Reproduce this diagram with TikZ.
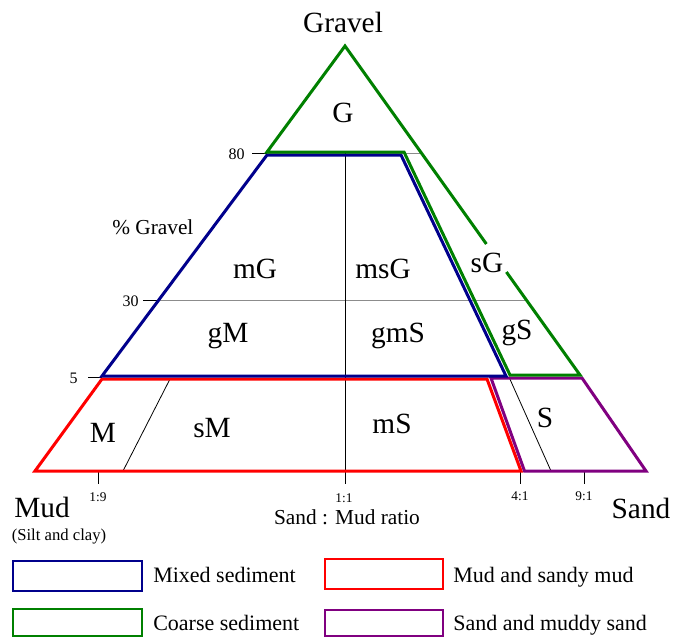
\documentclass[tikz,border=0pt]{standalone}
\usepackage{fontspec}
\setmainfont{Liberation Serif}
\definecolor{mixblue}{RGB}{0,0,140}
\definecolor{coarsegreen}{RGB}{0,128,0}
\definecolor{mudred}{RGB}{255,0,0}
\definecolor{sandpurple}{RGB}{128,0,128}

\begin{document}
\begin{tikzpicture}[x=0.75pt,y=-0.75pt,
  zone/.style={line width=2.25pt, line join=miter},
  fine/.style={line width=0.6pt, black},
  guide/.style={line width=0.6pt, black!45},
  region/.style={font=\fontsize{22}{24}\selectfont, anchor=base, inner sep=0},
  corner/.style={font=\fontsize{22}{24}\selectfont, anchor=base, inner sep=0},
  pct/.style={font=\fontsize{12}{14}\selectfont, anchor=base east, inner sep=0},
  ratio/.style={font=\fontsize{10}{12}\selectfont, anchor=base, inner sep=0},
  axis/.style={font=\fontsize{16}{18}\selectfont, inner sep=0},
  keybox/.style={line width=1.5pt},
  keytext/.style={font=\fontsize{16.5}{18}\selectfont, anchor=base west, inner sep=0}]

\useasboundingbox (0,0) rectangle (683,637);

% ---- guide lines, ticks and dividers ----
\coordinate (t80a) at (252,153);  \coordinate (t80b) at (267,153);  \coordinate (t80c) at (421,153);
\coordinate (t30a) at (143,300);  \coordinate (t30b) at (160,300);  \coordinate (t30c) at (525,300);
\coordinate (t5a)  at (88,377);   \coordinate (t5b)  at (102,377);
\draw[guide] (t80b) -- (t80c);
\draw[guide] (t30b) -- (t30c);
\draw[fine] (t80a) -- (t80b);
\draw[fine] (t30a) -- (t30b);
\draw[fine] (t5a) -- (t5b);

\coordinate (vtop) at (345,153); \coordinate (vbot) at (345,484);
\draw[fine] (vtop) -- (vbot);
\coordinate (dMa) at (170,379); \coordinate (dMb) at (123,471);
\draw[fine] (dMa) -- (dMb);
\coordinate (dSa) at (509,377); \coordinate (dSb) at (551,471);
\draw[fine] (dSa) -- (dSb);

\coordinate (k19a) at (98,471);  \coordinate (k19b) at (98,484);
\coordinate (k41a) at (520,471); \coordinate (k41b) at (520,484);
\coordinate (k91a) at (584,471); \coordinate (k91b) at (584,484);
\draw[fine] (k19a) -- (k19b);
\draw[fine] (k41a) -- (k41b);
\draw[fine] (k91a) -- (k91b);

% ---- classification fields ----
% mud and sandy mud
\coordinate (r1) at (102,379); \coordinate (r2) at (487,379);
\coordinate (r3) at (521,471); \coordinate (r4) at (35,471);
\draw[zone, mudred] (r1) -- (r2) -- (r3) -- (r4) -- cycle;
% sand and muddy sand
\coordinate (p1) at (491,378); \coordinate (p2) at (582,378);
\coordinate (p3) at (646,471); \coordinate (p4) at (524.5,471);
\draw[zone, sandpurple] (p1) -- (p2) -- (p3) -- (p4) -- cycle;
% mixed sediment
\coordinate (b1) at (267,155); \coordinate (b2) at (401,155);
\coordinate (b3) at (506,376); \coordinate (b4) at (102,376);
\draw[zone, mixblue] (b1) -- (b2) -- (b3) -- (b4) -- cycle;
% coarse sediment (open where the sG label sits)
\coordinate (apex) at (345,46);
\coordinate (g1) at (267,152); \coordinate (g2) at (404,152);
\coordinate (g3) at (510,375); \coordinate (g4) at (580,375);
\coordinate (gapa) at (486.4,244); \coordinate (gapb) at (506.4,272);
\draw[zone, coarsegreen] (gapa) -- (apex) -- (g1) -- (g2) -- (g3) -- (g4) -- (gapb);

% ---- field labels ----
\node[region] (lG)   at (343,122) {G};
\node[region] (lmG)  at (255,278) {mG};
\node[region] (lmsG) at (383,278) {msG};
\node[region] (lsG)  at (487,272) {sG};
\node[region] (lgM)  at (228,342) {gM};
\node[region] (lgmS) at (398,342) {gmS};
\node[region] (lgS)  at (517,339) {gS};
\node[region] (lM)   at (103,442) {M};
\node[region] (lsM)  at (212,437) {sM};
\node[region] (lmS)  at (392,433) {mS};
\node[region] (lS)   at (545,427) {S};

% ---- end members and axes ----
\node[corner] (gravel) at (343,32) {Gravel};
\node[corner] (mud)    at (42,517) {Mud};
\node[corner] (sand)   at (641,518) {Sand};
\node[font=\fontsize{12.5}{14}\selectfont, anchor=base, inner sep=0] (silt) at (59,540) {(Silt and clay)};

\node[pct] (n80) at (245,159) {80};
\node[pct] (n30) at (139,306) {30};
\node[pct] (n5)  at (78,383) {5};
\node[axis, anchor=base west] (pg) at (112,234) {\% Gravel};

\node[ratio] (r19) at (98,501)  {1:9};
\node[ratio] (r11) at (344,502) {1:1};
\node[ratio] (r41) at (520,500) {4:1};
\node[ratio] (r91) at (584,500) {9:1};
\node[axis, anchor=base] (smr) at (347,524) {Sand : Mud ratio};

% ---- key ----
\draw[keybox, mixblue]     (13,561) rectangle (142,591);
\draw[keybox, coarsegreen] (13,609) rectangle (142,636);
\draw[keybox, mudred]      (325,559) rectangle (443,589);
\draw[keybox, sandpurple]  (325,610) rectangle (443,636);
\node[keytext] (kmix)  at (153,582) {Mixed sediment};
\node[keytext] (kcoar) at (153,630) {Coarse sediment};
\node[keytext] (kmud)  at (453,582) {Mud and sandy mud};
\node[keytext] (ksand) at (453,630) {Sand and muddy sand};
\end{tikzpicture}
\end{document}
